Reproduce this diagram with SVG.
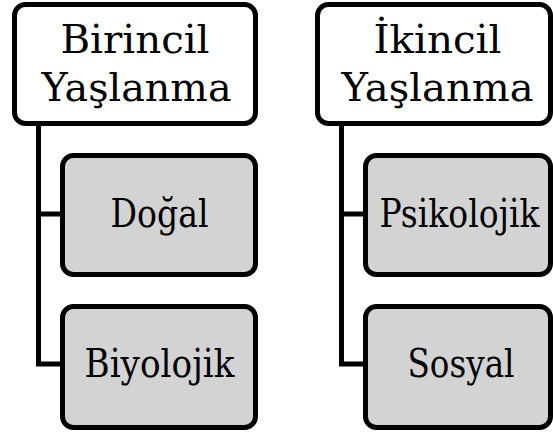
<svg xmlns="http://www.w3.org/2000/svg" width="553" height="432" viewBox="0 0 553 432">
<style>
.main{fill:#ffffff;stroke:#000;stroke-width:5}
.sub{fill:#d3d3d3;stroke:#000;stroke-width:5}
.t{font-family:"DejaVu Serif","Liberation Serif",serif;font-size:39px;fill:#000;text-anchor:middle}
.c{fill:none;stroke:#000;stroke-width:5}
</style>
<g id="connectors">
<path class="c" d="M38.5,124 V364 H62.5 M38.5,214 H62.5"/>
<path class="c" d="M341.5,124 V364 H365.5 M341.5,214 H365.5"/>
</g>
<g id="birincil">
<rect class="main" x="14.5" y="4.5" width="241" height="119" rx="11"/>
<text class="t" x="135" y="53" textLength="149" lengthAdjust="spacingAndGlyphs">Birincil</text>
<text class="t" x="136.5" y="101" textLength="190" lengthAdjust="spacingAndGlyphs">Yaşlanma</text>
</g>
<g id="dogal">
<rect class="sub" x="62.5" y="155.5" width="193" height="119" rx="11"/>
<text class="t" x="159.5" y="227" textLength="98" lengthAdjust="spacingAndGlyphs">Doğal</text>
</g>
<g id="biyolojik">
<rect class="sub" x="62.5" y="306.5" width="193" height="121" rx="11"/>
<text class="t" x="159.5" y="377" textLength="150" lengthAdjust="spacingAndGlyphs">Biyolojik</text>
</g>
<g id="ikincil">
<rect class="main" x="317.5" y="4.5" width="233" height="119" rx="11"/>
<text class="t" x="437.5" y="53" textLength="128" lengthAdjust="spacingAndGlyphs">İkincil</text>
<text class="t" x="437.5" y="101" textLength="192" lengthAdjust="spacingAndGlyphs">Yaşlanma</text>
</g>
<g id="psikolojik">
<rect class="sub" x="365.5" y="155.5" width="185" height="119" rx="11"/>
<text class="t" x="459.5" y="227" textLength="160" lengthAdjust="spacingAndGlyphs">Psikolojik</text>
</g>
<g id="sosyal">
<rect class="sub" x="365.5" y="306.5" width="185" height="121" rx="11"/>
<text class="t" x="461" y="377" textLength="107" lengthAdjust="spacingAndGlyphs">Sosyal</text>
</g>
</svg>
